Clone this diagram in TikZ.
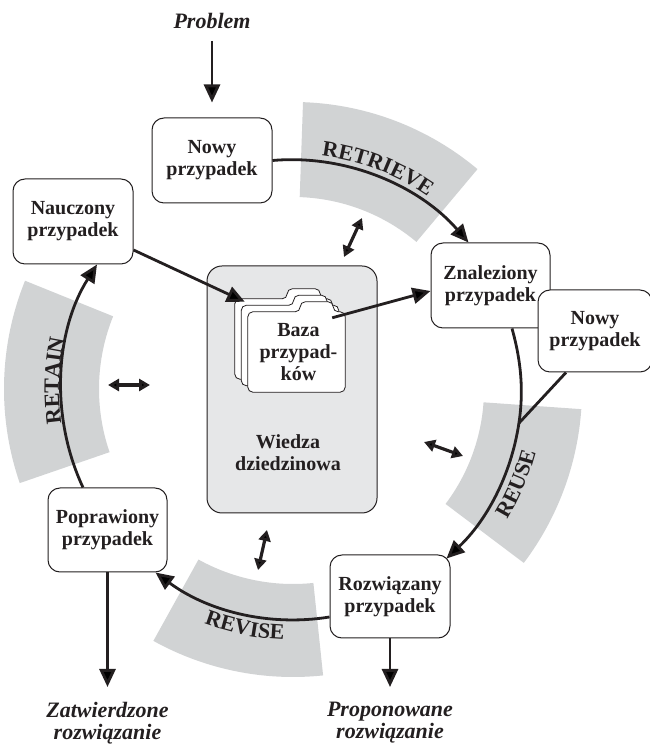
\documentclass[tikz,border=0pt]{standalone}
\usepackage{fontspec}
\setmainfont{Liberation Serif}
\usetikzlibrary{arrows.meta,calc,decorations.text}
\definecolor{ink}{RGB}{35,31,32}
\definecolor{bandgray}{RGB}{209,211,212}
\definecolor{basegray}{RGB}{230,231,232}

\begin{document}
\begin{tikzpicture}[x=1pt,y=1pt,
  every node/.style={text=ink},
  boxtxt/.style={font=\bfseries\fontsize{20}{22}\selectfont, align=center},
  casebox/.style={draw=ink, line width=1pt, rounded corners=12pt, fill=white,
    inner sep=0pt, boxtxt},
  band/.style={fill=bandgray},
  flow/.style={draw=ink, line width=2.8pt, -{Triangle[length=18pt,width=16pt]}},
  link/.style={draw=ink, line width=2.8pt},
  twoway/.style={draw=ink, line width=3.2pt,
    {Triangle[length=11pt,width=12pt]}-{Triangle[length=11pt,width=12pt]}},
  outcome/.style={font=\bfseries\itshape\fontsize{22}{22}\selectfont,
    align=center, inner sep=0pt},
  phaselabel/.style={decorate, decoration={text along path, text align=center,
    text color=ink, text={|\bfseries\fontsize{22}{22}\selectfont|#1}}},
  folder/.style={draw=ink, line width=0.8pt, fill=white, rounded corners=5pt},
  foldbody/.style={minimum width=97pt, minimum height=80pt, inner sep=0pt}
]
\useasboundingbox (0,0) rectangle (649,744);

% centre of the CBR cycle
\coordinate (C) at (293,355);

% grey phase sectors
\fill[band] ($(C)+(50:192pt)$) arc[start angle=50,end angle=88,radius=192pt]
  -- ($(C)+(88:287pt)$) arc[start angle=88,end angle=50,radius=287pt] -- cycle;
\fill[band] ($(C)+(158:194pt)$) arc[start angle=158,end angle=199,radius=194pt]
  -- ($(C)+(199:289pt)$) arc[start angle=199,end angle=158,radius=289pt] -- cycle;
\fill[band] ($(C)+(-37:191pt)$) arc[start angle=-37,end angle=-4,radius=191pt]
  -- ($(C)+(-4:289pt)$) arc[start angle=-4,end angle=-37,radius=289pt] -- cycle;
\fill[band] ($(C)+(241:195pt)$) arc[start angle=241,end angle=276,radius=195pt]
  -- ($(C)+(276:288pt)$) arc[start angle=276,end angle=241,radius=288pt] -- cycle;

% phase names
\path[phaselabel=RETRIEVE] ($(C)+(99:235pt)$) arc[start angle=99,end angle=39,radius=235pt];
\path[phaselabel=RETAIN] ($(C)+(218:234pt)$) arc[start angle=218,end angle=138,radius=234pt];
\path[phaselabel=REUSE] ($(C)+(-63:251pt)$) arc[start angle=-63,end angle=17,radius=251pt];
\path[phaselabel=REVISE] ($(C)+(218.6:251pt)$) arc[start angle=218.6,end angle=298.6,radius=251pt];

% domain knowledge with the case base
\node[draw=ink, line width=1pt, fill=basegray, rounded corners=15pt,
  minimum width=170pt, minimum height=247pt] (wiedza) at (292,354.5) {};
\node[boxtxt] (wiedzatxt) at (288,291) {Wiedza\\dziedzinowa};

\node[foldbody] (fold3) at (283.5,405) {};
\node[foldbody] (fold2) at (290,398.5) {};
\node[foldbody] (fold1) at (296.5,392) {};
\foreach \f in {fold3,fold2,fold1}
  \draw[folder] (\f.north west) -- (\f.south west) -- (\f.south east)
    -- (\f.north east) -- ([xshift=-12pt]\f.north east)
    -- ([xshift=-12pt,yshift=10pt]\f.north east)
    -- ([xshift=-45pt,yshift=10pt]\f.north east)
    -- ([xshift=-45pt]\f.north east) -- cycle;
\node[boxtxt] (baza) at ($(fold1.center)+(2,0)$) {Baza\\przypad-\\ków};

% cases
\node[casebox, minimum width=120pt, minimum height=85pt] (nowyA) at (212,583.5) {Nowy\\przypadek};
\node[casebox, minimum width=120pt, minimum height=85pt] (nauczony) at (73,522.5) {Nauczony\\przypadek};
\node[casebox, minimum width=119pt, minimum height=85pt] (znal) at (490.5,458.5) {Znaleziony\\przypadek};
\node[casebox, minimum width=114pt, minimum height=82pt] (nowyB) at (595,413) {Nowy\\przypadek};
\node[casebox, minimum width=119pt, minimum height=84pt] (poprawiony) at (107.5,214) {Poprawiony\\przypadek};
\node[casebox, minimum width=120pt, minimum height=83pt] (rozw) at (390,147.5) {Rozwiązany\\przypadek};

% inputs and outputs
\node[outcome, anchor=base] (problem) at (212,715) {Problem};
\node[outcome, anchor=north] (zatw) at (107.5,42) {Zatwierdzone\\rozwiązanie};
\node[outcome, anchor=north] (propo) at (390,42) {Proponowane\\rozwiązanie};

\draw[flow] ([yshift=-12pt]problem.base) -- ([yshift=15pt]nowyA.north);
\draw[flow] (poprawiony.south) -- ([yshift=15pt]zatw.north);
\draw[flow] (rozw.south) -- ([yshift=15pt]propo.north);

% the cycle
\coordinate (join) at ($(C)+(-8.6:228.5pt)$);
\draw[flow] (nowyA.east) to[out=5,in=131,looseness=0.9] ([xshift=-22pt]znal.north);
\draw[flow] ([xshift=21.5pt]znal.south) to[out=-74.4,in=81.4,looseness=0.9] (join)
  to[out=-98.6,in=43.4,looseness=0.9] ([shift={(-4pt,-4pt)}]rozw.north east);
\draw[link] ([xshift=-29pt]nowyB.south) -- (join);
\draw[flow] ([yshift=-20.5pt]rozw.west) to[out=189.2,in=-36.6,looseness=0.9]
  ([xshift=-12pt]poprawiony.south east);
\draw[flow] ([xshift=-24.5pt]poprawiony.north) to[out=115,in=237.7,looseness=0.9]
  ([xshift=24pt]nauczony.south);

% case base links
\draw[flow] ([yshift=-28.5pt]nauczony.east) -- ([shift={(10pt,-3pt)}]fold3.north west);
\draw[flow] ([shift={(-13pt,-6pt)}]fold1.north east) -- ([yshift=-5.5pt]znal.west);

% exchanges with domain knowledge
\coordinate (kL1) at (108,359);
\coordinate (kL2) at (150,359);
\coordinate (kR1) at (424,302);
\coordinate (kR2) at (463,288);
\coordinate (kB1) at (267,214);
\coordinate (kB2) at (258,174);
\coordinate (kT1) at (362,526);
\coordinate (kT2) at (344,487);
\draw[twoway] (kL1) -- (kL2);
\draw[twoway] (kR1) -- (kR2);
\draw[twoway] (kB1) -- (kB2);
\draw[twoway] (kT1) -- (kT2);
\end{tikzpicture}
\end{document}
